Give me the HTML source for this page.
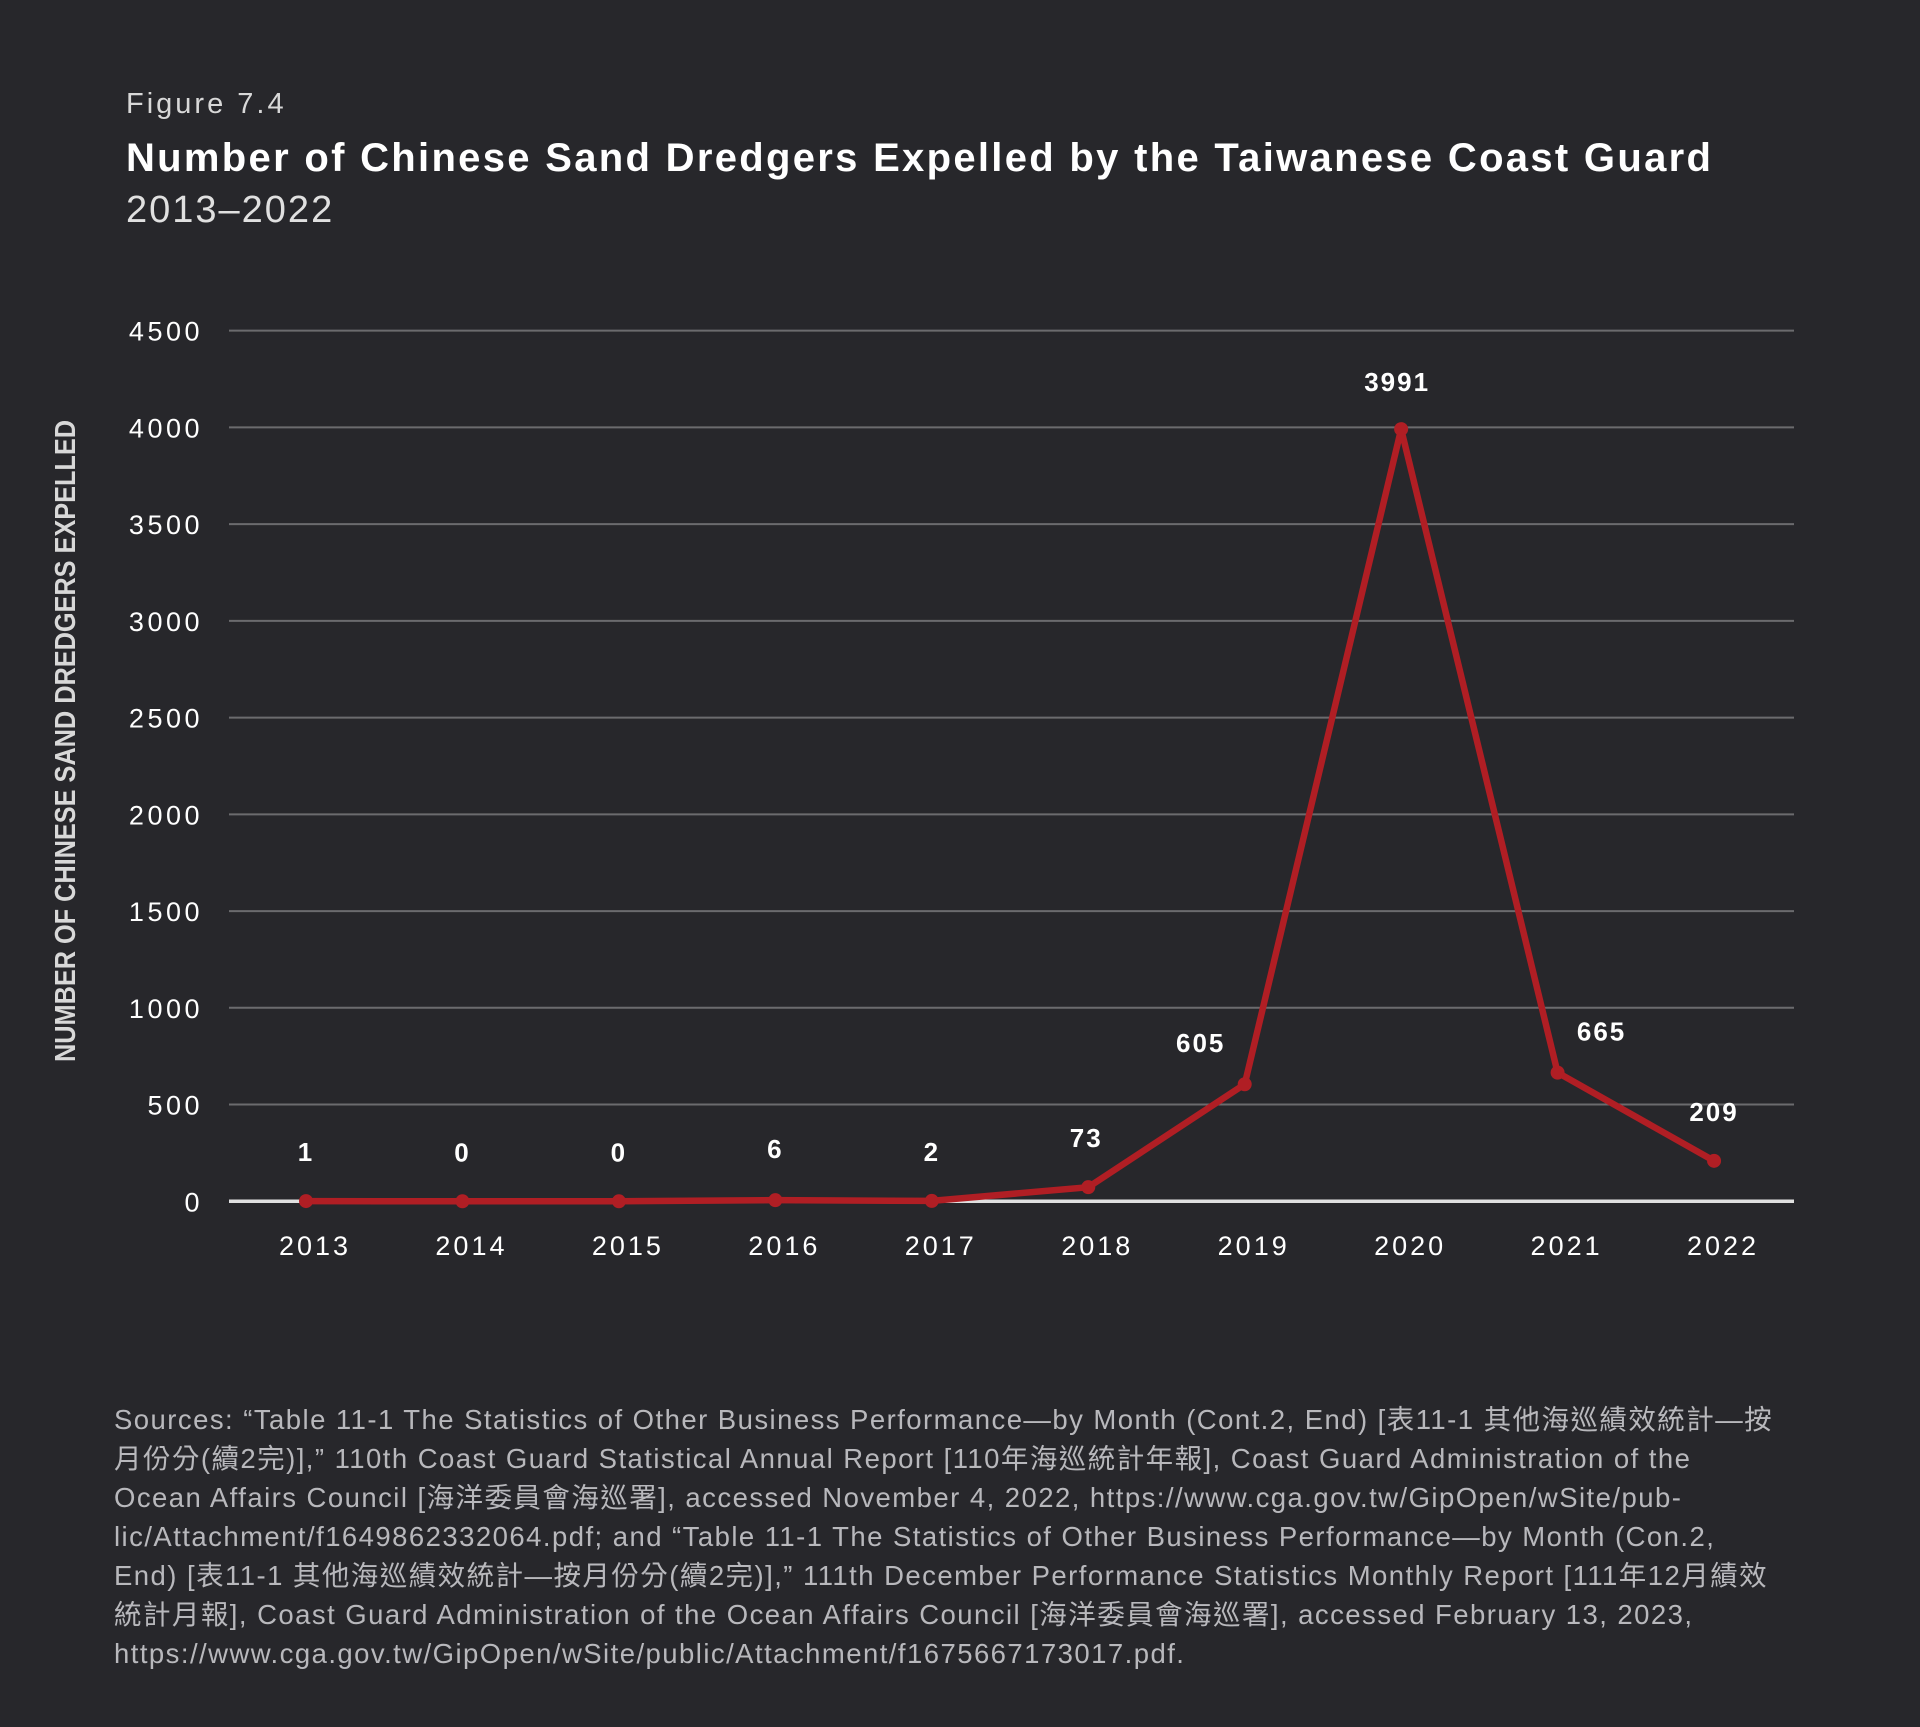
<!DOCTYPE html>
<html><head><meta charset="utf-8">
<style>
html,body{margin:0;padding:0;background:#27272b;}
body{width:1920px;height:1727px;position:relative;overflow:hidden;font-family:"Liberation Sans","Noto Sans CJK TC",sans-serif;color:#fff;}
.t{position:absolute;white-space:nowrap;}
#src{position:absolute;left:114px;top:1400px;font-size:27.5px;line-height:39px;color:#b8b8bc;white-space:nowrap;letter-spacing:1.45px;}
</style></head>
<body>
<div class="t" style="left:126px;top:88px;font-size:29px;color:#d8d8d8;letter-spacing:3px;">Figure 7.4</div>
<div class="t" style="left:126px;top:136px;font-size:40px;font-weight:bold;letter-spacing:2.3px;">Number of Chinese Sand Dredgers Expelled by the Taiwanese Coast Guard</div>
<div class="t" style="left:126px;top:189px;font-size:38px;color:#e0e0e0;letter-spacing:2px;">2013–2022</div>
<svg id="chart" width="1920" height="1360" style="position:absolute;left:0;top:0;"></svg>
<div id="src">Sources: “Table 11-1 The Statistics of Other Business Performance—by Month (Cont.2, End) [表11-1 其他海巡績效統計—按<br>月份分(續2完)],” 110th Coast Guard Statistical Annual Report [110年海巡統計年報], Coast Guard Administration of the<br>Ocean Affairs Council [海洋委員會海巡署], accessed November 4, 2022, https://www.cga.gov.tw/GipOpen/wSite/pub-<br>lic/Attachment/f1649862332064.pdf; and “Table 11-1 The Statistics of Other Business Performance—by Month (Con.2,<br>End) [表11-1 其他海巡績效統計—按月份分(續2完)],” 111th December Performance Statistics Monthly Report [111年12月績效<br>統計月報], Coast Guard Administration of the Ocean Affairs Council [海洋委員會海巡署], accessed February 13, 2023,<br>https://www.cga.gov.tw/GipOpen/wSite/public/Attachment/f1675667173017.pdf.</div>
<script>
const years=["2013","2014","2015","2016","2017","2018","2019","2020","2021","2022"];
const values=[1,0,0,6,2,73,605,3991,665,209];
const yTicks=[0,500,1000,1500,2000,2500,3000,3500,4000,4500];
const labelDx=[0,0,0,0,0,-2,-44,-4,44,0];
const labelDy=[-40,-40,-40,-42,-40,-40,-32,-38,-32,-40];
const NS="http://www.w3.org/2000/svg";
const svg=document.getElementById('chart');
const X0=306,XS=156.45,Y0=1201.3,YTOP=330.6,YMAX=4500;
const x=i=>X0+i*XS;
const y=v=>Y0-(v/YMAX)*(Y0-YTOP);
function mk(t,a){const e=document.createElementNS(NS,t);for(const k in a)e.setAttribute(k,a[k]);svg.appendChild(e);return e;}
yTicks.forEach(v=>{
  const l=mk('line',{x1:229,x2:1794,y1:y(v),y2:y(v),stroke:v===0?'#e0e0e0':'#6b6b6e','stroke-width':v===0?3.5:2});
  
  
  const t=mk('text',{x:203,y:y(v)+10,'text-anchor':'end','font-size':27,fill:'#fff','letter-spacing':3.5});
  t.textContent=v;
  
  
});
years.forEach((yr,i)=>{
  const t=mk('text',{x:x(i)+9,y:1255,'text-anchor':'middle','font-size':27,fill:'#fff','letter-spacing':3});
  t.textContent=yr;
  
  
});
const yt=mk('text',{x:0,y:0,transform:'translate(75,741) rotate(-90)','text-anchor':'middle','font-size':29,'font-weight':'bold',fill:'#d8d8d8',textLength:642,lengthAdjust:'spacingAndGlyphs','font-family':'"Liberation Sans Narrow","Liberation Sans",sans-serif'});
yt.textContent='NUMBER OF CHINESE SAND DREDGERS EXPELLED';


const pts=values.map((v,i)=>x(i)+','+y(v)).join(' ');
const pl=mk('polyline',{points:pts,fill:'none',stroke:'#b01e24','stroke-width':6.5,'stroke-linejoin':'miter'});


values.forEach((v,i)=>{
  const c=mk('circle',{cx:x(i),cy:y(v),r:7,fill:'#b01e24'});
  
  
  const t=mk('text',{x:x(i)+labelDx[i],y:y(v)+labelDy[i],'text-anchor':'middle','font-size':26,'font-weight':'bold',fill:'#fff','letter-spacing':2});
  t.textContent=v;
  
  
});
</script>
</body></html>
